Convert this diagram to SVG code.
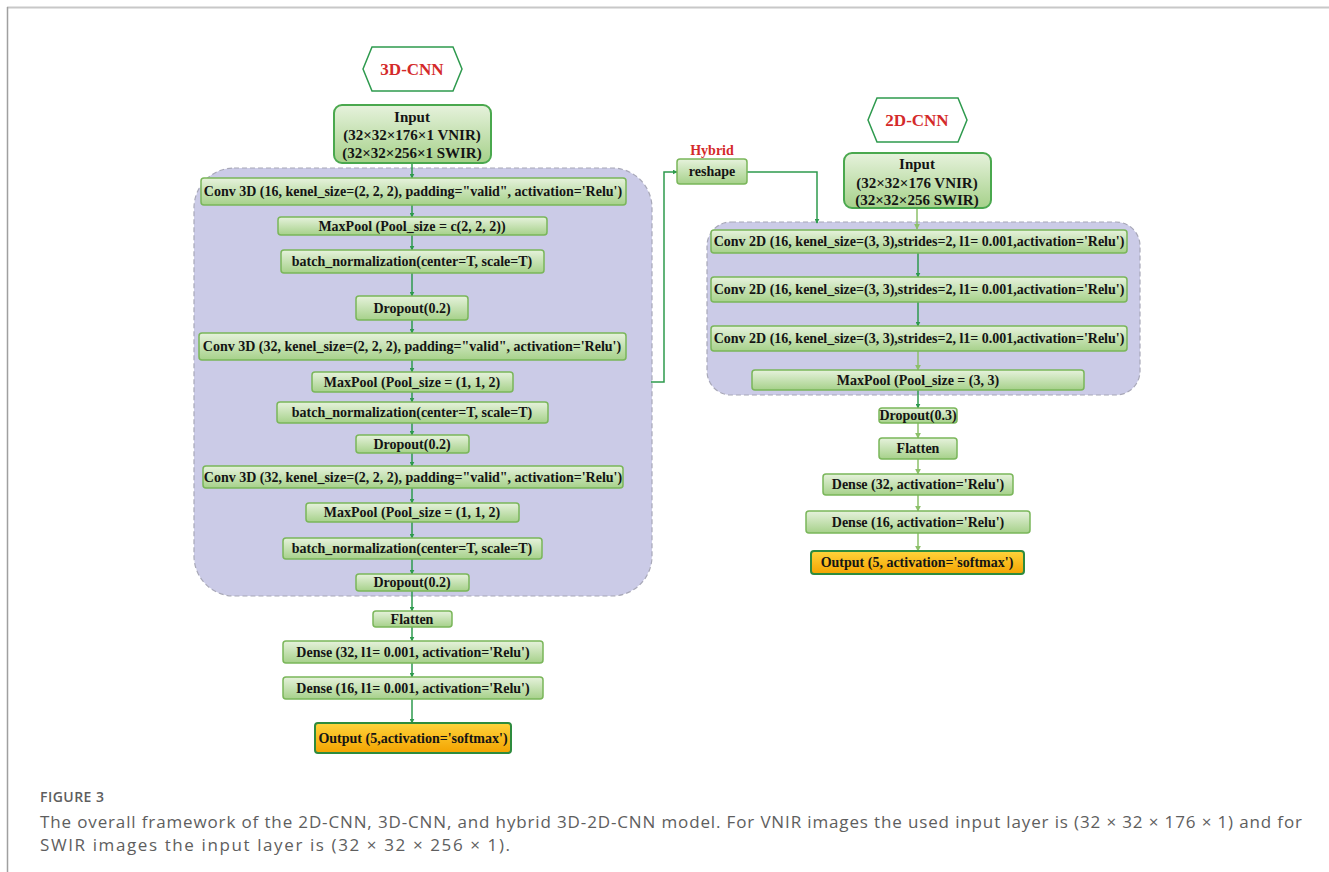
<svg xmlns="http://www.w3.org/2000/svg" width="1329" height="872" viewBox="0 0 1329 872">
<defs>
<linearGradient id="gb" x1="0" y1="0" x2="0" y2="1">
<stop offset="0" stop-color="#e6f2dc"/>
<stop offset="1" stop-color="#a6d18a"/>
</linearGradient>
<linearGradient id="go" x1="0" y1="0" x2="0" y2="1">
<stop offset="0" stop-color="#ffd43c"/>
<stop offset="1" stop-color="#f3a300"/>
</linearGradient>
<marker id="ad" viewBox="0 0 8 8" refX="7" refY="4" markerWidth="5" markerHeight="5" orient="auto" markerUnits="userSpaceOnUse">
<path d="M0,0 L8,4 L0,8 Z" fill="#2e9a4e"/>
</marker>
<marker id="al" viewBox="0 0 8 8" refX="7" refY="4" markerWidth="6" markerHeight="6" orient="auto" markerUnits="userSpaceOnUse">
<path d="M0,0 L8,4 L0,8 Z" fill="#8cc06a"/>
</marker>
</defs>
<style>
.box{fill:url(#gb);stroke:#7ab65a;stroke-width:1.5}
.inp{fill:url(#gb);stroke:#4aa84e;stroke-width:2}
.out{fill:url(#go);stroke:#2e8b3e;stroke-width:2}
.hex{fill:#ffffff;stroke:#2e9a4e;stroke-width:1.5}
.cont{fill:#cbcbe7;stroke:#a8a8b8;stroke-width:1.2;stroke-dasharray:5 3}
.t{font-family:"Liberation Serif","Times New Roman",serif;font-weight:bold;font-size:14px;fill:#141414;text-anchor:middle;dominant-baseline:central}
.ti{font-size:15px}
.red{font-family:"Liberation Serif","Times New Roman",serif;font-weight:bold;fill:#d42a2a;text-anchor:middle;dominant-baseline:central}
.cd{fill:none;stroke:#2e9a4e;stroke-width:1.5;marker-end:url(#ad)}
.cl{fill:none;stroke:#8cc06a;stroke-width:1.5;marker-end:url(#al)}
.cap{font-family:"Open Sans","Noto Sans","Liberation Sans",sans-serif;fill:#5e5e5e}
</style>
<rect width="1329" height="872" fill="#ffffff"/>
<line x1="7" y1="7.5" x2="1329" y2="7.5" stroke="#c8c8c8" stroke-width="2"/>
<line x1="7.5" y1="7" x2="7.5" y2="872" stroke="#a0a0a0" stroke-width="1.5"/>

<g id="containers">
<rect id="c3d" class="cont" x="194" y="168" width="458" height="428" rx="40"/>
<rect id="c2d" class="cont" x="707" y="222" width="433" height="173" rx="24"/>
</g>

<g id="connectors">
<path class="cd" d="M412,163 V178"/>
<path class="cd" d="M412,205 V217"/>
<path class="cd" d="M412,235 V250"/>
<path class="cd" d="M412,273 V296"/>
<path class="cd" d="M412,320 V333"/>
<path class="cd" d="M412,360 V372"/>
<path class="cd" d="M412,392 V402"/>
<path class="cd" d="M412,423 V435"/>
<path class="cd" d="M412,453 V466"/>
<path class="cd" d="M412,488 V503"/>
<path class="cd" d="M412,522 V538"/>
<path class="cd" d="M412,559 V574"/>
<path class="cd" d="M412,591 V611"/>
<path class="cd" d="M412,627 V641"/>
<path class="cd" d="M412,663 V677"/>
<path class="cd" d="M412,699 V723"/>
<path class="cd" d="M651,382 H664 V172 H677"/>
<path class="cd" d="M747,172 H817 V223"/>
<path class="cl" d="M917,208 V229"/>
<path class="cd" d="M918,253 V277"/>
<path class="cd" d="M918,302 V326"/>
<path class="cl" d="M918,351 V370"/>
<path class="cd" d="M918,390 V408"/>
<path class="cl" d="M918,423 V438"/>
<path class="cl" d="M918,459 V474"/>
<path class="cl" d="M918,495 V511"/>
<path class="cl" d="M918,533 V551"/>
</g>

<g id="n3dcnn">
<path class="hex" d="M363,69 L372,47 L453,47 L462,69 L453,91 L372,91 Z"/>
<text class="red" x="412" y="69" font-size="17">3D-CNN</text>
</g>
<g id="n3d_input">
<rect class="inp" x="334" y="105" width="157" height="58" rx="8"/>
<text class="t ti" x="412" y="117">Input</text>
<text class="t ti" x="412" y="135">(32×32×176×1 VNIR)</text>
<text class="t ti" x="412" y="153">(32×32×256×1 SWIR)</text>
</g>
<g id="n3d_conv1">
<rect class="box" x="201" y="178" width="425" height="27" rx="3"/>
<text class="t" x="413" y="191.5">Conv 3D (16, kenel_size=(2, 2, 2), padding="valid", activation='Relu')</text>
</g>
<g id="n3d_pool1">
<rect class="box" x="278" y="217" width="269" height="18" rx="3"/>
<text class="t" x="412" y="226">MaxPool (Pool_size = c(2, 2, 2))</text>
</g>
<g id="n3d_bn1">
<rect class="box" x="281" y="250" width="263" height="23" rx="3"/>
<text class="t" x="412" y="261.5">batch_normalization(center=T, scale=T)</text>
</g>
<g id="n3d_drop1">
<rect class="box" x="356" y="296" width="112" height="24" rx="3"/>
<text class="t" x="412" y="308">Dropout(0.2)</text>
</g>
<g id="n3d_conv2">
<rect class="box" x="199" y="333" width="427" height="27" rx="3"/>
<text class="t" x="412" y="346.5">Conv 3D (32, kenel_size=(2, 2, 2), padding="valid", activation='Relu')</text>
</g>
<g id="n3d_pool2">
<rect class="box" x="312" y="372" width="201" height="20" rx="3"/>
<text class="t" x="412" y="382">MaxPool (Pool_size = (1, 1, 2)</text>
</g>
<g id="n3d_bn2">
<rect class="box" x="277" y="402" width="271" height="21" rx="3"/>
<text class="t" x="412" y="412.5">batch_normalization(center=T, scale=T)</text>
</g>
<g id="n3d_drop2">
<rect class="box" x="356" y="435" width="113" height="18" rx="3"/>
<text class="t" x="412" y="444">Dropout(0.2)</text>
</g>
<g id="n3d_conv3">
<rect class="box" x="203" y="466" width="420" height="22" rx="3"/>
<text class="t" x="413" y="477">Conv 3D (32, kenel_size=(2, 2, 2), padding="valid", activation='Relu')</text>
</g>
<g id="n3d_pool3">
<rect class="box" x="306" y="503" width="213" height="19" rx="3"/>
<text class="t" x="412" y="512.5">MaxPool (Pool_size = (1, 1, 2)</text>
</g>
<g id="n3d_bn3">
<rect class="box" x="283" y="538" width="259" height="21" rx="3"/>
<text class="t" x="412" y="548.5">batch_normalization(center=T, scale=T)</text>
</g>
<g id="n3d_drop3">
<rect class="box" x="356" y="574" width="113" height="17" rx="3"/>
<text class="t" x="412" y="582.5">Dropout(0.2)</text>
</g>
<g id="n3d_flatten">
<rect class="box" x="373" y="611" width="79" height="16" rx="3"/>
<text class="t" x="412" y="619">Flatten</text>
</g>
<g id="n3d_dense1">
<rect class="box" x="283" y="641" width="260" height="22" rx="3"/>
<text class="t" x="413" y="652">Dense (32, l1= 0.001, activation='Relu')</text>
</g>
<g id="n3d_dense2">
<rect class="box" x="283" y="677" width="260" height="22" rx="3"/>
<text class="t" x="413" y="688">Dense (16, l1= 0.001, activation='Relu')</text>
</g>
<g id="n3d_output">
<rect class="out" x="315" y="723" width="196" height="30" rx="3"/>
<text class="t" x="413" y="738">Output (5,activation='softmax')</text>
</g>

<g id="nhybrid">
<text class="red" x="712" y="150" font-size="14">Hybrid</text>
<rect class="box" x="677" y="159" width="70" height="25" rx="3"/>
<text class="t" x="712" y="171.5">reshape</text>
</g>

<g id="n2dcnn">
<path class="hex" d="M868,120 L877,98 L958,98 L967,120 L958,142 L877,142 Z"/>
<text class="red" x="917" y="120" font-size="17">2D-CNN</text>
</g>
<g id="n2d_input">
<rect class="inp" x="844" y="153" width="147" height="55" rx="8"/>
<text class="t ti" x="917" y="164">Input</text>
<text class="t ti" x="917" y="183">(32×32×176 VNIR)</text>
<text class="t ti" x="917" y="200">(32×32×256 SWIR)</text>
</g>
<g id="n2d_conv1">
<rect class="box" x="711" y="230" width="416" height="23" rx="3"/>
<text class="t" x="919" y="241.5">Conv 2D (16, kenel_size=(3, 3),strides=2, l1= 0.001,activation='Relu')</text>
</g>
<g id="n2d_conv2">
<rect class="box" x="711" y="277" width="416" height="25" rx="3"/>
<text class="t" x="919" y="289.5">Conv 2D (16, kenel_size=(3, 3),strides=2, l1= 0.001,activation='Relu')</text>
</g>
<g id="n2d_conv3">
<rect class="box" x="711" y="326" width="416" height="25" rx="3"/>
<text class="t" x="919" y="338.5">Conv 2D (16, kenel_size=(3, 3),strides=2, l1= 0.001,activation='Relu')</text>
</g>
<g id="n2d_pool">
<rect class="box" x="752" y="370" width="332" height="20" rx="3"/>
<text class="t" x="918" y="380">MaxPool (Pool_size = (3, 3)</text>
</g>
<g id="n2d_drop">
<rect class="box" x="879" y="408" width="78" height="15" rx="3"/>
<text class="t" x="918" y="415.5">Dropout(0.3)</text>
</g>
<g id="n2d_flatten">
<rect class="box" x="879" y="438" width="78" height="21" rx="3"/>
<text class="t" x="918" y="448.5">Flatten</text>
</g>
<g id="n2d_dense1">
<rect class="box" x="823" y="474" width="190" height="21" rx="3"/>
<text class="t" x="918" y="484.5">Dense (32, activation='Relu')</text>
</g>
<g id="n2d_dense2">
<rect class="box" x="806" y="511" width="224" height="22" rx="3"/>
<text class="t" x="918" y="522">Dense (16, activation='Relu')</text>
</g>
<g id="n2d_output">
<rect class="out" x="811" y="551" width="213" height="23" rx="3"/>
<text class="t" x="917" y="562.5">Output (5, activation='softmax')</text>
</g>

<g id="caption">
<text class="cap" x="40" y="802" font-size="14" font-weight="600" textLength="64" lengthAdjust="spacing">FIGURE 3</text>
<text class="cap" x="40" y="828" font-size="17" textLength="1262" lengthAdjust="spacing">The overall framework of the 2D-CNN, 3D-CNN, and hybrid 3D-2D-CNN model. For VNIR images the used input layer is (32 × 32 × 176 × 1) and for</text>
<text class="cap" x="40" y="851" font-size="17" textLength="470" lengthAdjust="spacing">SWIR images the input layer is (32 × 32 × 256 × 1).</text>
</g>
</svg>
